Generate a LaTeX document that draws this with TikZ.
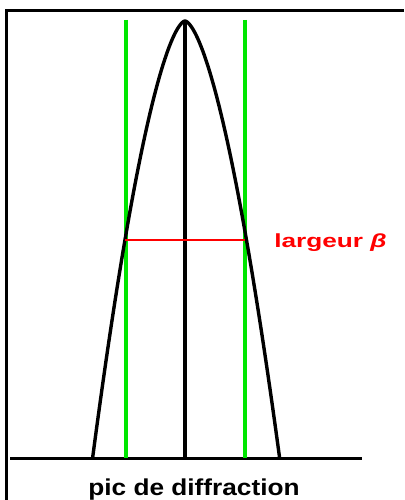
\documentclass[tikz,border=0pt]{standalone}
\usepackage{fontspec}
\setmainfont{Liberation Sans}
\definecolor{lime}{RGB}{0,230,0}
\definecolor{redlab}{RGB}{255,0,0}
\begin{document}
\begin{tikzpicture}[x=1pt,y=-1pt,
  blk/.style={line width=3.2pt,black},
  grn/.style={line width=3.2pt,lime},
  redl/.style={line width=2.8pt,redlab},
  frm/.style={line width=3pt,black},
  lbl/.style={inner sep=0pt,font=\bfseries}]
\useasboundingbox (0,0) rectangle (404,500);
\fill[white] (0,0) rectangle (404,500);
% frame
\draw[frm] (404,11) -- (6,11) -- (6,500);
% baseline
\draw[blk,line width=3pt] (10,458) -- (362,458);
% green lines
\draw[grn] (126,20) -- (126,458);
\draw[grn] (245,20) -- (245,458);
% centre line
\draw[blk] (185,21) -- (185,458);
% peak: half-width ~ a * depth^0.624
\draw[blk,line width=3.4pt,line join=round]
  plot[domain=-20.9:20.9,samples=120,variable=\u]
  ({185+((\u<0)*2.08+(\u>=0)*2.13)*\u*abs(\u)^0.248},{21+\u*\u});
% width line
\draw[redl] (125,240) -- (245,240);
% labels
\node[lbl,anchor=base west,text=redlab,font=\bfseries\fontsize{19}{21}\selectfont,xscale=1.38] (larg) at (274,247) {largeur {\itshape β}};
\node[lbl,anchor=base,font=\bfseries\fontsize{23}{26}\selectfont,xscale=1.14] (pic) at (194,495) {pic de diffraction};
\end{tikzpicture}
\end{document}
